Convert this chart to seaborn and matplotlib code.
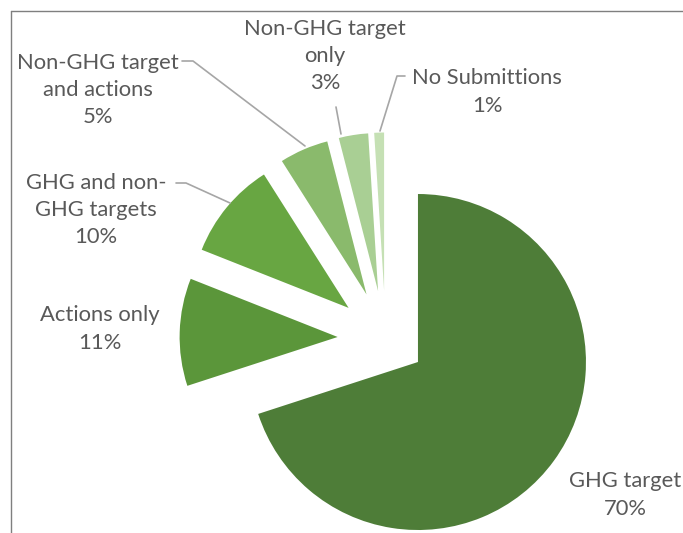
import numpy as np
import matplotlib
matplotlib.use('Agg')
import matplotlib.pyplot as plt
import seaborn as sns

# data
categories = ['GHG target', 'Actions only', 'GHG and non-\nGHG targets',
              'Non-GHG target\nand actions', 'Non-GHG target\nonly', 'No Submittions']
shares = [70, 11, 10, 5, 3, 1]
colors = ['#4e7d38', '#5b963a', '#68a642', '#8aba6c', '#a9cf94', '#c5e0b4']

# layout (pixel space, y up)
W, H = 683, 533
center = (385.6, H - 338.5)
radius = 158
explode = [40, 48, 48, 48, 48, 48]
label_pos = [(625, H - 495), (100, H - 329), (96, H - 210),
             (98, H - 90), (325, H - 56), (487, H - 92)]
# leader lines: (text side point, elbow, wedge point)
leaders = {
    2: [(176, H - 183), (186, H - 183), (230, H - 203)],
    3: [(182, H - 61), (193, H - 61), (305, H - 146)],
    4: [(336, H - 107), (336, H - 107), (341, H - 134)],
    5: [(405, H - 76), (397, H - 76), (380, H - 131)],
}

sns.set_style('white')
plt.rcParams['font.family'] = ['Lato', 'DejaVu Sans']

fig = plt.figure(figsize=(W / 100, H / 100), dpi=100)
ax = fig.add_axes([0, 0, 1, 1])

wedges, _ = ax.pie(shares, colors=colors, startangle=90, counterclock=False,
                   radius=radius, center=center, explode=explode,
                   wedgeprops=dict(linewidth=0), frame=True)
wedges[0].set_radius(168)
ax.set_xlim(0, W)
ax.set_ylim(0, H)
ax.set_aspect('equal')
ax.axis('off')

for i, (cat, val) in enumerate(zip(categories, shares)):
    x, y = label_pos[i]
    ax.text(x, y, '%s\n%d%%' % (cat, val), ha='center', va='center',
            fontsize=15.8, color='#595959', linespacing=1.45)

for i, pts in leaders.items():
    xs, ys = zip(*pts)
    ax.plot(xs, ys, color='#a6a6a6', lw=1.2)

# frame lines (top and left)
ax.plot([10.5, 10.5], [0, H - 11], color='#7f7f7f', lw=1, clip_on=False)
ax.plot([10.5, W], [H - 11, H - 11], color='#7f7f7f', lw=1, clip_on=False)

fig.savefig('out.png', dpi=100)
